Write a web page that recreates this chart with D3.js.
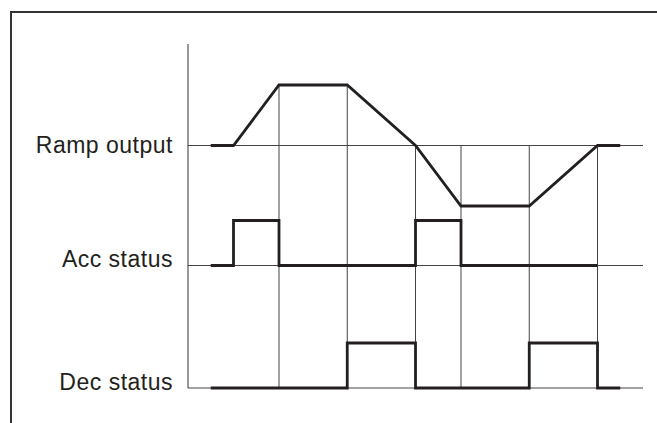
<!DOCTYPE html>
<html lang="en">
<head>
<meta charset="utf-8">
<title>Ramp status timing</title>
<script src="https://cdn.jsdelivr.net/npm/d3@7/dist/d3.min.js"></script>
<style>
  html, body { margin: 0; padding: 0; background: #fff; }
  svg { display: block; }
</style>
</head>
<body>
<script>
// signal rows (top to bottom)
var rowLabels = ["Ramp output", "Acc status", "Dec status"];

// time of each breakpoint (arbitrary units)
var gridTimes = [2, 3.5, 5, 6, 7.5, 9];

// ramp output: [time, value]  (value -1..1)
var rampPts = [[0.5, 0], [1, 0], [2, 1], [3.5, 1], [5, 0], [6, -1], [7.5, -1], [9, 0], [9.5, 0]];

// status signals as step points: [time, level]
var accPts = [[0.5, 0], [1, 1], [2, 0], [5, 1], [6, 0], [9, 0]];
var decPts = [[0.5, 0], [3.5, 1], [5, 0], [7.5, 1], [9, 0], [9.5, 0]];

var width = 657, height = 423;
var ink = "#231f20";

var svg = d3.select("body").append("svg")
    .attr("width", width)
    .attr("height", height);

// frame (top and left edges only)
svg.append("path")
    .attr("d", "M11,423V12H657")
    .attr("fill", "none")
    .attr("stroke", "#333")
    .attr("stroke-width", 2);

var x = d3.scaleLinear().domain([0, 10]).range([188, 643]);

// one y scale per row
var yRamp = d3.scaleLinear().domain([-1, 1]).range([206, 85]);
var yAcc = d3.scaleLinear().domain([0, 1]).range([265.5, 220.5]);
var yDec = d3.scaleLinear().domain([0, 1]).range([388, 343]);

var baselines = [yRamp(0), yAcc(0), yDec(0)];

var g = svg.append("g");

// axis line
g.append("line")
    .attr("x1", x(0)).attr("x2", x(0))
    .attr("y1", 44).attr("y2", yDec(0))
    .attr("stroke", "#333").attr("stroke-width", 1);

// horizontal baselines
g.selectAll("line.base").data(baselines).enter()
  .append("line")
    .attr("class", "base")
    .attr("x1", x(0)).attr("x2", x(10))
    .attr("y1", function(d){ return d; })
    .attr("y2", function(d){ return d; })
    .attr("stroke", "#444").attr("stroke-width", 1);

// ramp value at time t (linear between points)
function rampAt(t) {
  for (var i = 1; i < rampPts.length; i++) {
    var a = rampPts[i-1], b = rampPts[i];
    if (t >= a[0] && t <= b[0]) {
      return a[1] + (b[1] - a[1]) * (t - a[0]) / (b[0] - a[0]);
    }
  }
  return 0;
}

// vertical grid lines at breakpoints
g.selectAll("line.grid").data(gridTimes).enter()
  .append("line")
    .attr("class", "grid")
    .attr("x1", function(d){ return x(d); })
    .attr("x2", function(d){ return x(d); })
    .attr("y1", function(d){ return yRamp(Math.max(0, rampAt(d))); })
    .attr("y2", yDec(0))
    .attr("stroke", "#444").attr("stroke-width", 1);

// signal traces
var rampLine = d3.line()
    .x(function(d){ return x(d[0]); })
    .y(function(d){ return yRamp(d[1]); });

var accLine = d3.line()
    .curve(d3.curveStepAfter)
    .x(function(d){ return x(d[0]); })
    .y(function(d){ return yAcc(d[1]); });

var decLine = d3.line()
    .curve(d3.curveStepAfter)
    .x(function(d){ return x(d[0]); })
    .y(function(d){ return yDec(d[1]); });

[[rampLine, rampPts], [accLine, accPts], [decLine, decPts]].forEach(function(s){
  g.append("path")
      .attr("d", s[0](s[1]))
      .attr("fill", "none")
      .attr("stroke", ink)
      .attr("stroke-width", 2.8)
      .attr("stroke-linejoin", "miter");
});

// row labels
var labelDy = [7, 1, 2];
g.selectAll("text.lbl").data(rowLabels).enter()
  .append("text")
    .attr("class", "lbl")
    .attr("x", 173)
    .attr("y", function(d, i){ return baselines[i] + labelDy[i]; })
    .attr("text-anchor", "end")
    .attr("font-family", "'Liberation Sans', Arial, sans-serif")
    .attr("font-size", 23)
    .attr("letter-spacing", 0.5)
    .attr("fill", ink)
    .text(function(d){ return d; });
</script>
</body>
</html>
